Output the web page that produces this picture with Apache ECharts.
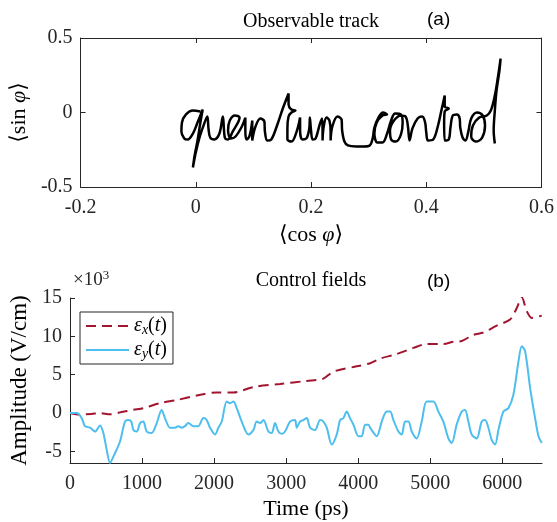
<!DOCTYPE html>
<html><head><meta charset="utf-8">
<script src="https://cdn.jsdelivr.net/npm/echarts@6/dist/echarts.min.js"></script>
<style>html,body{margin:0;padding:0;background:#fff}#c{width:557px;height:522px}</style>
</head><body><div id="c"></div>
<script>
// Panel (a): observable track <cos phi>, <sin phi>
const trackCos = [0.008,-0.005,-0.017,-0.024,-0.025,-0.020,-0.014,-0.005,0.003,0.012,
0.008,0.003,-0.002,-0.005,0,0.007,0.014,0.020,0.022,0.025,
0.032,0.041,0.047,0.049,0.051,0.056,0.064,0.076,0.068,0.059,
0.056,0.061,0.069,0.080,0.086,0.086,0.088,0.093,0.098,0.098,
0.098,0.103,0.112,0.119,0.120,0.124,0.131,0.141,0.151,0.161,
0.161,0.166,0.173,0.166,0.161,0.159,0.159,0.166,0.175,0.181,
0.181,0.185,0.192,0.197,0.198,0.200,0.203,0.208,0.215,0.219,
0.220,0.220,0.222,0.227,0.232,0.234,0.234,0.237,0.246,0.253,
0.254,0.258,0.264,
0.278,0.292,0.302,0.307,
0.310,0.317,0.325,0.332,0.324,0.314,0.310,0.315,0.324,0.332,
0.339,0.346,0.356,0.359,0.356,0.347,0.339,0.337,0.344,0.356,
0.364,0.368,0.371,0.376,0.385,0.393,0.398,0.400,0.403,0.412,
0.420,0.427,0.432,0.432,0.439,0.432,0.431,0.432,0.439,0.442,
0.446,0.453,0.458,0.459,0.463,0.468,0.473,0.478,0.488,0.498,
0.502,0.497,0.486,0.478,0.481,0.492,0.505,0.512,0.519,0.524,
0.529,0.527,0.522,0.519,0.517,0.519];
const trackSin = [0.007,0.013,-0.013,-0.067,-0.128,-0.174,-0.181,-0.141,-0.067,0.020,
-0.067,-0.188,-0.289,-0.369,-0.268,-0.161,-0.081,-0.027,-0.107,-0.168,
-0.181,-0.141,-0.027,-0.121,-0.174,-0.181,-0.128,-0.034,-0.020,-0.054,
-0.121,-0.174,-0.161,-0.094,-0.034,-0.121,-0.181,-0.161,-0.054,-0.128,
-0.188,-0.101,-0.040,-0.060,-0.128,-0.188,-0.181,-0.087,0.027,0.128,
0.054,0.020,0.013,0,-0.027,-0.107,-0.181,-0.195,-0.128,-0.034,
-0.121,-0.181,-0.174,-0.107,-0.034,-0.121,-0.181,-0.174,-0.081,-0.040,
-0.121,-0.188,-0.094,-0.034,-0.054,-0.128,-0.188,-0.094,-0.027,-0.047,
-0.121,-0.195,-0.221,
-0.228,-0.228,-0.221,-0.174,
-0.101,-0.034,0,-0.013,-0.020,-0.067,-0.141,-0.201,-0.201,-0.141,
-0.054,-0.007,-0.013,-0.067,-0.148,-0.195,-0.181,-0.121,-0.054,-0.020,
-0.027,-0.087,-0.188,-0.107,-0.040,-0.027,-0.067,-0.134,-0.188,-0.181,
-0.094,0.027,0.114,0.040,0.027,0.007,-0.067,-0.188,-0.181,-0.101,
-0.020,-0.013,-0.040,-0.101,-0.168,-0.188,-0.128,-0.040,0,-0.020,
-0.087,-0.168,-0.195,-0.161,-0.087,-0.034,-0.020,0.013,0.114,0.228,
0.362,0.282,0.148,0.013,-0.121,-0.208];
const aXTicks = [-0.2,0,0.2,0.4,0.6];
const aYTicks = [-0.5,0,0.5];

// Panel (b): control fields, amplitude in units of 10^3 V/cm
const exTime = [0,139,300,417,556,700,880,1018,1249,1480,1758,2036,2267,2545,2915,3285,3516,3655,3979,4164,
4303,4534,4765,4950,5181,5320,5436,5598,5737,5922,6107,6200,6269,6338,6408,6547];
const exVal = [0,-0.2,-0.1,0,-0.15,0.1,0.43,0.65,1.3,1.7,2.3,2.7,2.7,3.4,3.8,4.2,4.5,5.4,6.1,6.5,
7.1,7.7,8.5,9.0,9.0,9.3,9.4,10.2,10.5,11.4,12.2,13.7,15.1,13.3,12.4,12.7];
const eyTime = [0,93,162,208,278,347,417,460,510,555,
610,694,763,810,850,880,926,972,1018,1064,
1133,1203,1272,1318,1388,1457,1503,1550,1596,1642,
1712,1781,1851,1897,1943,2013,2059,2106,2175,2221,
2267,2314,2383,2476,2545,2591,2637,2684,2753,2799,
2845,2892,2940,2984,3053,3123,3146,3192,3239,3285,
3331,3401,3470,3516,3563,3632,3701,3748,3794,3840,
3886,3933,4002,4048,4095,4141,4164,4257,4326,4395,
4442,4488,4557,4603,4650,4696,4742,4811,4881,4950,
5043,5112,5181,5251,5297,5366,5436,5482,5528,5575,
5644,5713,5760,5806,5852,5899,5945,6014,6084,6153,
6223,6269,6315,6385,6454,6501,6547];
const eyVal = [0,0,-0.65,-1.7,-1.9,-2.4,-1.6,-2.5,-4.8,-6.5,
-5.5,-3.7,-1.1,-0.9,-1.1,-2.2,-2.4,-1.3,-1.1,-2.4,
-2.6,-1.3,0.4,-0.65,-1.9,-1.9,-1.7,-1.9,-1.7,-1.3,
-1.7,-1.7,-0.65,-0.9,-1.9,-2.8,-1.9,-1.1,1.5,1.3,
1.5,0.65,-1.1,-2.8,-2.2,-1.1,-1.3,-0.9,-2.4,-2.6,
-1.3,-2.4,-2.7,-2.4,-1.1,-0.9,-1.9,-1.1,-0.9,-0.65,
-1.9,-2.2,-0.9,-1.1,-1.9,-4.1,-2.8,-0.9,-0.65,0.2,
-0.65,-1.5,-3.0,-3.0,-1.5,-1.5,-1.9,-3.0,-1.1,0.2,
0.2,-0.9,-2.4,-2.8,-1.1,-1.1,-2.4,-3.3,-1.1,1.5,
1.5,0.2,-1.1,-3.3,-3.9,-1.5,0.2,0.4,-1.1,-2.8,
-3.3,-1.1,-0.9,-1.9,-3.5,-4.1,-2.2,0.2,0.65,2.4,
6.7,8.7,8.1,3.3,-0.65,-3.0,-3.9];
const bXTicks = [0,1000,2000,3000,4000,5000,6000];
const bYTicks = [-5,0,5,10,15];

const SERIF = '"Liberation Serif", "DejaVu Serif", serif';
const AX = '#262626';
const chart = echarts.init(document.getElementById('c'), null, {renderer:'canvas'});

const plain = v => String(v);
function tickLabel(vals, margin) {
  return {color: '#262626', fontFamily: SERIF, fontSize: 20, margin: margin, customValues: vals, formatter: plain};
}
function tick(vals) {
  return {show: true, inside: true, length: 5, lineStyle: {color: AX}, customValues: vals};
}
function baseAxis(extra) {
  return Object.assign({
    axisLine: {show: true, onZero: false, lineStyle: {color: AX, width: 1}},
    splitLine: {show: false},
    nameTextStyle: {color: '#000', fontFamily: SERIF, fontSize: 22}
  }, extra);
}
const nameRich = {
  t: {fontFamily: SERIF, fontSize: 22, lineHeight: 24, color: '#000'},
  i: {fontFamily: SERIF, fontSize: 22, lineHeight: 24, fontStyle: 'italic', color: '#000'}
};

const option = {
  animation: false,
  backgroundColor: '#fff',
  title: [
    {text: 'Observable track', left: 306, top: 7, textAlign: 'center',
     textStyle: {fontFamily: SERIF, fontSize: 20, fontWeight: 'normal', color: '#000'}},
    {text: 'Control fields', left: 306, top: 266, textAlign: 'center',
     textStyle: {fontFamily: SERIF, fontSize: 20, fontWeight: 'normal', color: '#000'}}
  ],
  graphic: [
    {type: 'text', left: 427, top: 10, style: {text: '(a)', font: '19px "Liberation Sans", Arial, sans-serif', fill: '#000'}},
    {type: 'text', left: 427, top: 272, style: {text: '(b)', font: '19px "Liberation Sans", Arial, sans-serif', fill: '#000'}},
    {type: 'text', left: 73, top: 269, style: {
      text: '{a|×10}{b|3}',
      rich: {
        a: {fontFamily: SERIF, fontSize: 19, lineHeight: 22, fill: '#262626'},
        b: {fontFamily: SERIF, fontSize: 13, lineHeight: 14, verticalAlign: 'top', fill: '#262626'}
      }
    }}
  ],
  grid: [
    {left: 70, top: 38, width: 472, height: 149, containLabel: false},
    {left: 70, top: 298, width: 472, height: 165, containLabel: false}
  ],
  xAxis: [
    baseAxis({gridIndex: 0, type: 'value', min: -0.2, max: 0.6, interval: 0.2, position: 'bottom',
      axisLabel: tickLabel(aXTicks, 11), axisTick: tick(aXTicks),
      name: '{t|⟨cos }{i|φ}{t|⟩}', nameLocation: 'middle', nameGap: 36,
      nameTextStyle: {rich: nameRich}}),
    baseAxis({gridIndex: 0, type: 'value', min: -0.2, max: 0.6, interval: 0.2, position: 'top',
      axisLabel: {show: false}, axisTick: tick(aXTicks)}),
    baseAxis({gridIndex: 1, type: 'value', min: 0, max: 6550, interval: 1000, position: 'bottom',
      axisLabel: tickLabel(bXTicks, 11), axisTick: tick(bXTicks),
      name: 'Time (ps)', nameLocation: 'middle', nameGap: 35})
  ],
  yAxis: [
    baseAxis({gridIndex: 0, type: 'value', min: -0.5, max: 0.5, interval: 0.5, position: 'left',
      axisLabel: tickLabel(aYTicks, 8), axisTick: tick(aYTicks),
      name: '{t|⟨sin }{i|φ}{t|⟩}', nameLocation: 'middle', nameGap: 35, nameRotate: 90,
      nameTextStyle: {rich: nameRich}}),
    baseAxis({gridIndex: 0, type: 'value', min: -0.5, max: 0.5, interval: 0.5, position: 'right',
      axisLabel: {show: false}, axisTick: tick(aYTicks)}),
    baseAxis({gridIndex: 1, type: 'value', min: -6.5, max: 15, position: 'left',
      axisLabel: tickLabel(bYTicks, 8), axisTick: tick(bYTicks),
      name: 'Amplitude (V/cm)', nameLocation: 'middle', nameGap: 32, nameRotate: 90,
      nameTextStyle: {color: '#000', fontFamily: SERIF, fontSize: 23}})
  ],
  legend: {
    left: 80, top: 312, orient: 'vertical', itemWidth: 43, itemHeight: 14, itemGap: 3, itemTextGap: 4,
    padding: [4, 6, 3, 5],
    borderColor: '#262626', borderWidth: 1, borderRadius: 0, backgroundColor: '#fff',
    itemStyle: {opacity: 0},
    data: ['ex', 'ey'],
    formatter: function (n) {
      return n === 'ex' ? '{e|ε}{s|x}{n|(}{e|t}{n|)}' : '{e|ε}{s|y}{n|(}{e|t}{n|)}';
    },
    textStyle: {
      rich: {
        e: {fontFamily: SERIF, fontSize: 20, fontStyle: 'italic', lineHeight: 22, color: '#000'},
        n: {fontFamily: SERIF, fontSize: 20, lineHeight: 22, color: '#000'},
        s: {fontFamily: SERIF, fontSize: 14, fontStyle: 'italic', lineHeight: 14, verticalAlign: 'bottom', color: '#000'}
      }
    }
  },
  series: [
    {type: 'line', xAxisIndex: 0, yAxisIndex: 0, symbol: 'none', smooth: 0.35,
     lineStyle: {color: '#000', width: 2.5}, silent: true,
     data: trackCos.map((c, i) => [c, trackSin[i]])},
    {name: 'ex', type: 'line', xAxisIndex: 2, yAxisIndex: 2, symbol: 'none', smooth: 0.3,
     color: '#A2142F', lineStyle: {color: '#A2142F', width: 2, type: [10, 6]},
     data: exTime.map((t, i) => [t, exVal[i]])},
    {name: 'ey', type: 'line', xAxisIndex: 2, yAxisIndex: 2, symbol: 'none', smooth: 0.3,
     color: '#4DBEEE', lineStyle: {color: '#4DBEEE', width: 2},
     data: eyTime.map((t, i) => [t, eyVal[i]])}
  ]
};
chart.setOption(option);
</script>
</body></html>
